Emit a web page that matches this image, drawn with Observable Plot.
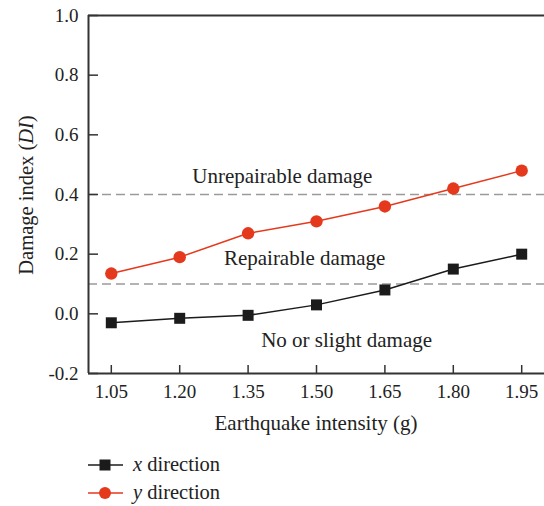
<!DOCTYPE html>
<html>
<head>
<meta charset="utf-8">
<script src="https://cdn.jsdelivr.net/npm/d3@7"></script>
<script src="https://cdn.jsdelivr.net/npm/@observablehq/plot@0.6"></script>
<style>
  body { margin: 0; background: #fff; font-family: "Liberation Serif", "DejaVu Serif", serif; color: #222; }
  #legend { position: relative; height: 66px; font-size: 20.5px; }
  .row { position: absolute; left: 87px; display: flex; align-items: center; }
  .row svg { display: block; }
  .row .name { margin-left: 8px; }
</style>
</head>
<body>
<div id="chart"></div>
<div id="legend"></div>
<script>
// Earthquake intensity levels (g) and damage index per direction
const intensity = [1.05, 1.20, 1.35, 1.50, 1.65, 1.80, 1.95];
const xDirection = [-0.03, -0.015, -0.005, 0.03, 0.08, 0.15, 0.20];
const yDirection = [0.135, 0.19, 0.27, 0.31, 0.36, 0.42, 0.48];
const yTicks = [-0.2, 0.0, 0.2, 0.4, 0.6, 0.8, 1.0];
const thresholds = [0.1, 0.4];
const zoneLabels = ["Unrepairable damage", "Repairable damage", "No or slight damage"];
const zoneX = [1.425, 1.474, 1.566];
const zoneY = [0.461, 0.186, -0.089];
const seriesNames = ["x direction", "y direction"];
const seriesColors = ["#1b1b1b", "#e5391d"];

const rows = intensity.map((g, i) => ({g, dx: xDirection[i], dy: yDirection[i]}));
const zones = zoneLabels.map((t, i) => ({t, x: zoneX[i], y: zoneY[i]}));

const chart = Plot.plot({
  width: 544,
  height: 440,
  marginLeft: 88,
  marginRight: 0,
  marginTop: 15,
  marginBottom: 67,
  style: {fontFamily: "Liberation Serif, DejaVu Serif, serif", fontSize: "19px", color: "#222", background: "#fff", overflow: "visible"},
  x: {domain: [1.0, 2.0]},
  y: {domain: [-0.2, 1.0]},
  marks: [
    Plot.ruleY(thresholds, {stroke: "#9a9a9a", strokeWidth: 1.4, strokeDasharray: "9,5"}),
    Plot.ruleY([-0.2, 1.0], {stroke: "#333", strokeWidth: 2}),
    Plot.ruleX([1.0], {stroke: "#333", strokeWidth: 2}),
    Plot.axisY(yTicks, {tickSize: -10, tickFormat: () => "", stroke: "#333", strokeWidth: 1.5, label: null}),
    Plot.axisY(yTicks, {tickSize: 0, tickPadding: 10, tickFormat: d => d.toFixed(1), label: null, fill: "#222", fontSize: 19}),
    Plot.axisX(intensity, {tickSize: -8, tickFormat: () => "", stroke: "#333", strokeWidth: 1.5, label: null}),
    Plot.axisX(intensity, {tickSize: 0, tickPadding: 11, tickFormat: d => d.toFixed(2), fill: "#222", fontSize: 19, label: null}),
    Plot.text(zones, {x: "x", y: "y", text: "t", fontSize: 21, fill: "#222"}),
    Plot.line(rows, {x: "g", y: "dx", stroke: seriesColors[0], strokeWidth: 1.5}),
    Plot.line(rows, {x: "g", y: "dy", stroke: seriesColors[1], strokeWidth: 1.5}),
    Plot.dot(rows, {x: "g", y: "dx", symbol: "square", r: 6.2, fill: seriesColors[0]}),
    Plot.dot(rows, {x: "g", y: "dy", symbol: "circle", r: 6.2, fill: seriesColors[1]})
  ]
});

const svg = d3.select(chart);

// X axis title
svg.append("text")
  .attr("x", 316).attr("y", 430)
  .attr("text-anchor", "middle")
  .attr("fill", "#222")
  .attr("font-size", 21)
  .text("Earthquake intensity (g)");

// Y axis title with italic abbreviation
const yTitle = svg.append("text")
  .attr("transform", "translate(33,195) rotate(-90)")
  .attr("text-anchor", "middle")
  .attr("fill", "#222")
  .attr("font-size", 20.5);
yTitle.append("tspan").text("Damage index (");
yTitle.append("tspan").attr("font-style", "italic").text("DI");
yTitle.append("tspan").text(")");

document.getElementById("chart").append(chart);

// Legend below the plot
const legend = d3.select("#legend");
seriesNames.forEach((name, i) => {
  const row = legend.append("div").attr("class", "row").style("top", (i === 0 ? 13 : 41) + "px");
  const s = row.append("svg").attr("width", 38).attr("height", 16);
  s.append("line").attr("x1", 1).attr("x2", 36).attr("y1", 8).attr("y2", 8)
    .attr("stroke", seriesColors[i]).attr("stroke-width", 1.5);
  if (i === 0) s.append("rect").attr("x", 12.5).attr("y", 2.5).attr("width", 11).attr("height", 11).attr("fill", seriesColors[i]);
  else s.append("circle").attr("cx", 18).attr("cy", 8).attr("r", 6).attr("fill", seriesColors[i]);
  const label = row.append("span").attr("class", "name");
  label.append("i").text(name.split(" ")[0]);
  label.append("span").text(" " + name.split(" ").slice(1).join(" "));
});
</script>
</body>
</html>
